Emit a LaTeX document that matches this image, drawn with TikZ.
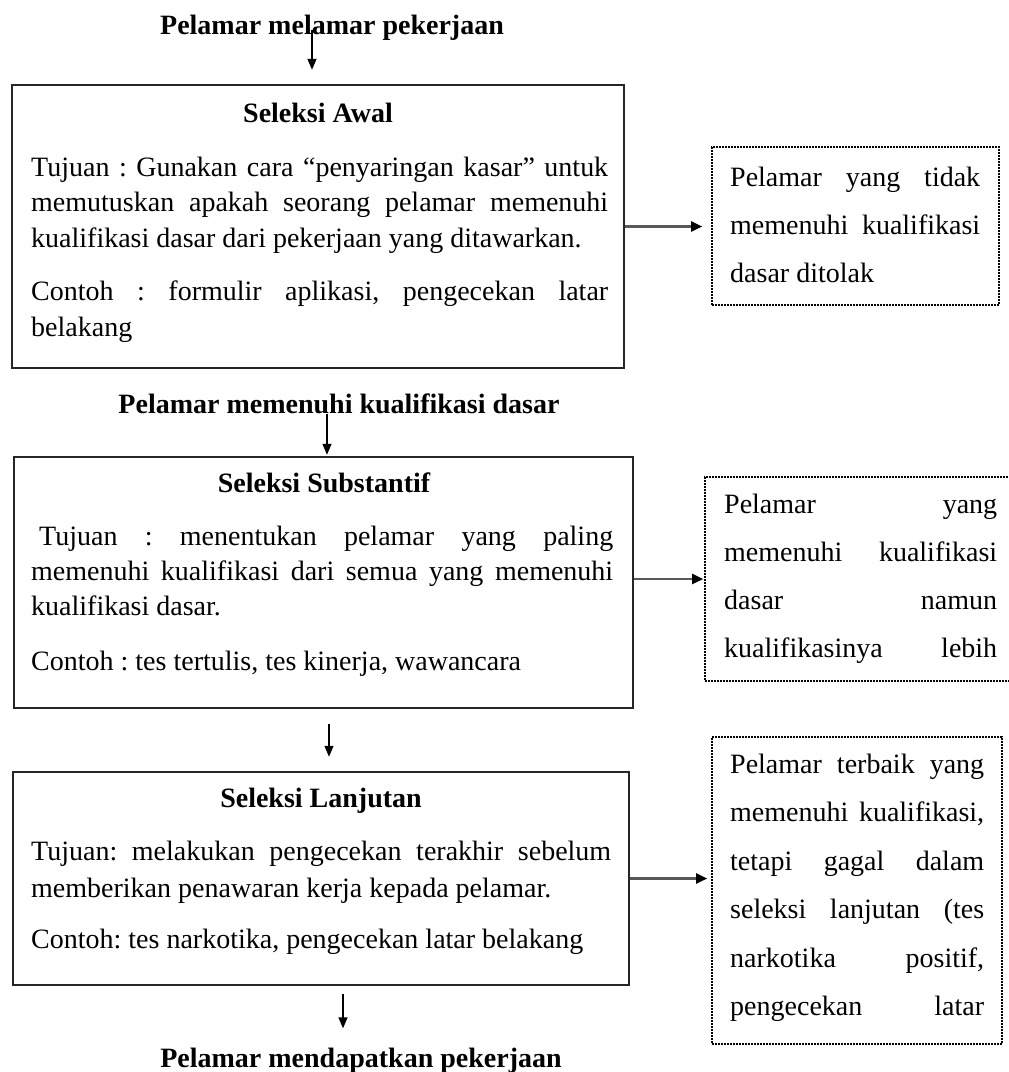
\documentclass[tikz,border=0pt]{standalone}
\usepackage{fontspec}
\setmainfont{Liberation Serif}
\usetikzlibrary{arrows.meta}
\newcommand{\jl}[1]{\makebox[\linewidth][s]{#1}}
\frenchspacing
\begin{document}
\begin{tikzpicture}[x=1pt,y=-1pt,
  mainbox/.style={draw=black!85, line width=2.5pt, inner sep=0pt},
  dotbox/.style={draw=black, line width=1.6pt, dash pattern=on 1.6pt off 1.4pt, inner sep=0pt},
  ttl/.style={font=\fontsize{28pt}{34pt}\selectfont\bfseries, inner sep=0pt, anchor=base},
  txt/.style={inner sep=0pt, anchor=base west, font=\fontsize{28pt}{34pt}\selectfont},
  arr/.style={line width=1.3pt, -{Triangle[length=11pt,width=9pt]}},
  harr/.style={line width=2.2pt, draw=black!65, -{Triangle[length=11pt,width=10pt,fill=black,color=black]}}
]
\useasboundingbox (0,0) rectangle (1009,1072);

% boxes
\node[mainbox, minimum width=612pt, minimum height=283pt] (b1) at (318,226.5) {};
\node[mainbox, minimum width=619pt, minimum height=251pt] (b2) at (323.5,582.5) {};
\node[mainbox, minimum width=616pt, minimum height=213pt] (b3) at (321,878.5) {};
\node[dotbox, minimum width=287pt, minimum height=158pt] (d1) at (855.5,226) {};
\node[dotbox, minimum width=315pt, minimum height=204pt] (d2) at (862.5,579) {};
\node[dotbox, minimum width=290pt, minimum height=307pt] (d3) at (857,890.5) {};

% titles
\node[ttl] (t1) at (332,34) {Pelamar melamar pekerjaan};
\node[ttl] (t2) at (339,413) {Pelamar memenuhi kualifikasi dasar};
\node[ttl] (t4) at (361,1067) {Pelamar mendapatkan pekerjaan};
\node[ttl] (s1) at (318,122) {Seleksi Awal};
\node[ttl] (s2) at (324,492) {Seleksi Substantif};
\node[ttl] (s3) at (321,807) {Seleksi Lanjutan};

% box texts
\node[txt] (p1) at (31,176) {\parbox[t]{577pt}{\fontsize{28pt}{35.5pt}\selectfont
\jl{Tujuan : Gunakan cara “penyaringan kasar” untuk}\\
\jl{memutuskan apakah seorang pelamar memenuhi}\\
kualifikasi dasar dari pekerjaan yang ditawarkan.\\[18pt]
\jl{Contoh : formulir aplikasi, pengecekan latar}\\
belakang}};
\node[txt] (p2) at (31,545) {\parbox[t]{582pt}{\fontsize{28pt}{35pt}\selectfont
\jl{\hspace*{8pt}Tujuan : menentukan pelamar yang paling}\\
\jl{memenuhi kualifikasi dari semua yang memenuhi}\\
kualifikasi dasar.\\[20pt]
Contoh : tes tertulis, tes kinerja, wawancara}};
\node[txt] (p3) at (31,860) {\parbox[t]{580pt}{\fontsize{28pt}{37pt}\selectfont
\jl{Tujuan: melakukan pengecekan terakhir sebelum}\\
memberikan penawaran kerja kepada pelamar.\\[14pt]
Contoh: tes narkotika, pengecekan latar belakang}};

% side texts
\node[txt] (q1) at (730,186) {\parbox[t]{250pt}{\fontsize{28pt}{48pt}\selectfont
\jl{Pelamar yang tidak}\\
\jl{memenuhi kualifikasi}\\
dasar ditolak}};
\node[txt] (q2) at (724,513) {\parbox[t]{273pt}{\fontsize{28pt}{48pt}\selectfont
\jl{Pelamar yang}\\
\jl{memenuhi kualifikasi}\\
\jl{dasar namun}\\
\jl{kualifikasinya lebih}}};
\node[txt] (q3) at (730,773) {\parbox[t]{254pt}{\fontsize{28pt}{48.5pt}\selectfont
\jl{Pelamar terbaik yang}\\
\jl{memenuhi kualifikasi,}\\
\jl{tetapi gagal dalam}\\
\jl{seleksi lanjutan (tes}\\
\jl{narkotika positif,}\\
\jl{pengecekan latar}}};

% vertical arrows
\draw[arr, shorten <=-4pt, shorten >=14pt] ([xshift=-20pt]t1.base) -- ([xshift=-20pt]t1.base |- b1.north);
\draw[arr, shorten >=1pt] ([xshift=-12pt]t2.south) -- ([xshift=-12pt]t2.south |- b2.north);
\draw[arr, shorten <=15pt, shorten >=14pt] ([xshift=5.5pt]b2.south) -- ([xshift=5.5pt]b2.south |- b3.north);
\draw[arr, shorten <=8pt, shorten >=19pt] ([xshift=22pt]b3.south) -- ([xshift=22pt]b3.south |- t4.north);

% horizontal arrows
\draw[harr, shorten >=9pt] (b1.east) -- (b1.east -| d1.west);
\draw[harr, shorten >=1pt] (b2.east |- d2.west) -- (d2.west);
\draw[harr, shorten >=4pt] (b3.east) -- (b3.east -| d3.west);
\end{tikzpicture}
\end{document}
